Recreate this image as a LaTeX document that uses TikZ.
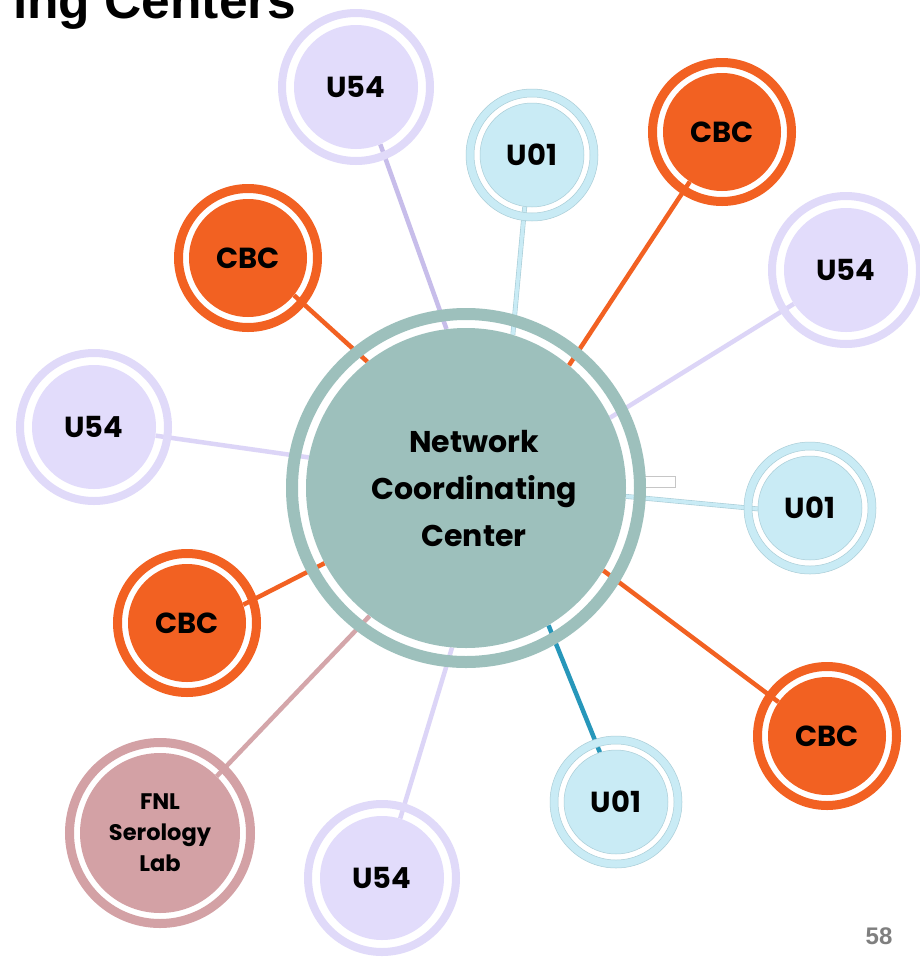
\documentclass[tikz,border=0pt]{standalone}
\usepackage{fontspec}
\setmainfont{Liberation Sans}
\newfontfamily\geofont{Poppins}
\newfontfamily\slidefont{Liberation Sans}

\definecolor{ncccol}{HTML}{9DC0BC}
\definecolor{cbccol}{HTML}{F26122}
\definecolor{u54col}{HTML}{E0DAF9}
\definecolor{u54fill}{HTML}{E2DCFB}
\definecolor{u54line}{HTML}{DCD5F7}
\definecolor{u54dark}{HTML}{C7BDEA}
\definecolor{u01col}{HTML}{C9EBF5}
\definecolor{u01edge}{HTML}{A9CDD7}
\definecolor{u01dark}{HTML}{2797BA}
\definecolor{fnlcol}{HTML}{D3A1A5}
\definecolor{fnlline}{HTML}{D4A6AA}
\definecolor{pagegray}{HTML}{7F7F7F}

\newcommand\hubfont{\geofont\bfseries\fontsize{29}{31}\selectfont}
\newcommand\nccfont{\geofont\bfseries\fontsize{30}{47}\selectfont}
\newcommand\fnlfont{\geofont\bfseries\fontsize{22.5}{31}\selectfont}

\pgfdeclarelayer{links}
\pgfsetlayers{links,main}

\tikzset{
  disc/.style={circle, inner sep=0pt, align=center, text=black},
  cbcdisc/.style={disc, fill=cbccol, minimum size=118pt, font=\hubfont},
  u54disc/.style={disc, fill=u54fill, minimum size=124pt, font=\hubfont},
  u01disc/.style={disc, fill=u01col, draw=u01edge, line width=0.5pt, minimum size=104pt, font=\hubfont},
  fnldisc/.style={disc, fill=fnlcol, minimum size=160pt, font=\fnlfont},
  nccdisc/.style={disc, fill=ncccol, minimum size=320pt},
  cbcring/.style={draw=cbccol, line width=9pt},
  u54ring/.style={draw=u54col, line width=8pt},
  u01ring/.style={draw=u01col, line width=8pt},
  u01rim/.style={draw=u01edge, line width=0.5pt},
  fnlring/.style={draw=fnlcol, line width=9pt},
  nccring/.style={draw=ncccol, line width=12pt},
  link/.style={line width=4.5pt},
  cbclink/.style={link, draw=cbccol},
  u54link/.style={link, draw=u54line},
  u01link/.style={draw=u01edge, line width=0.6pt, double=u01col, double distance=3.6pt},
}

\begin{document}
\begin{tikzpicture}[x=1pt, y=-1pt]
\useasboundingbox (0,0) rectangle (919,959);

% title fragment and page number
\node[anchor=base west, font=\slidefont\bfseries\fontsize{51.5}{56}\selectfont, inner sep=0pt] (title) at (13,18) {ing Centers};
\node[font=\slidefont\bfseries\fontsize{24}{26}\selectfont, text=pagegray, inner sep=0pt] (pagenum) at (879,936) {58};

% hub and satellites
\node[nccdisc] (ncc) at (466,488) {};
\node[font=\nccfont, align=center, inner sep=0pt] (ncctext) at (474,489) {Network\\Coordinating\\Center};

\node[u54disc] (u54a) at (356,87) {U54};
\node[u01disc] (u01a) at (532,155) {U01};
\node[cbcdisc] (cbca) at (722,132) {CBC};
\node[u54disc] (u54b) at (846,270) {U54};
\node[cbcdisc] (cbcb) at (248,258) {CBC};
\node[u54disc] (u54c) at (94,427) {U54};
\node[u01disc] (u01b) at (810,508) {U01};
\node[cbcdisc] (cbcc) at (187,623) {CBC};
\node[cbcdisc] (cbcd) at (827,736) {CBC};
\node[u01disc] (u01c) at (616,802) {U01};
\node[u54disc] (u54d) at (382,878) {U54};
\node[fnldisc] (fnl) at (160,833) {FNL\\Serology\\Lab};

% outer rings
\draw[nccring] (ncc.center) circle[radius=174pt];
\foreach \n in {cbca,cbcb,cbcc,cbcd} \draw[cbcring] (\n.center) circle[radius=69.5pt];
\foreach \n in {u54a,u54b,u54c,u54d} \draw[u54ring] (\n.center) circle[radius=74pt];
\foreach \n in {u01a,u01b,u01c} {
  \draw[u01ring] (\n.center) circle[radius=62pt];
  \draw[u01rim] (\n.center) circle[radius=66pt];
  \draw[u01rim] (\n.center) circle[radius=58pt];
}
\draw[fnlring] (fnl.center) circle[radius=90.5pt];

% connectors, under the rings
\begin{pgfonlayer}{links}
\fill[white] (0,0) rectangle (919,959);
\draw[gray!45, line width=0.8pt, fill=white] (643,476) rectangle (675,487);
\draw[u54link, draw=u54dark] (u54a.-67.5) -- (ncc.97.6);
\draw[u01link] (u01a.262.5) -- (ncc.73.2);
\draw[cbclink] (cbca.237.5) -- (ncc.50.1);
\draw[u54link] (u54b.213) -- (ncc.26.1);
\draw[cbclink] (cbcb.-39.2) -- (ncc.128.2);
\draw[u54link] (u54c.-8) -- (ncc.169.1);
\draw[u01link] (u01b.181) -- (ncc.-3);
\draw[cbclink] (cbcc.18.7) -- (ncc.208);
\draw[link, draw=fnlline] (fnl.45) -- (ncc.233.5);
\draw[u54link] (u54d.73.7) -- (ncc.265.3);
\draw[link, draw=u01dark] (u01c.108) -- (ncc.301.6);
\draw[cbclink] (cbcd.145) -- (ncc.-31.9);
\end{pgfonlayer}
\end{tikzpicture}
\end{document}
